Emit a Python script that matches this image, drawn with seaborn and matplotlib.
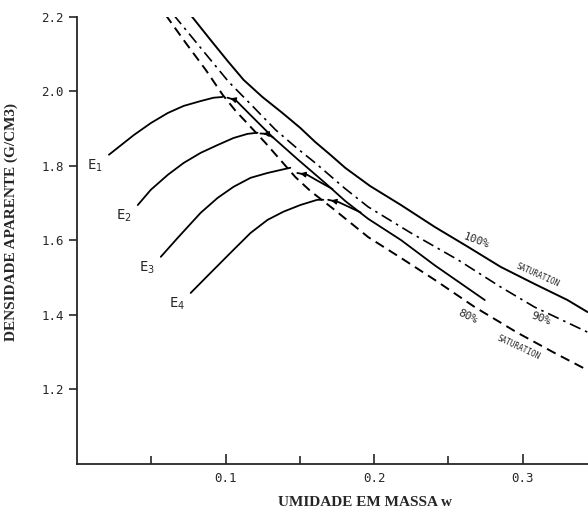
import matplotlib
matplotlib.use("Agg")
import matplotlib.pyplot as plt
import seaborn as sns

# saturation lines (w, dry density)
sat100_w = [0.0765, 0.0899, 0.1013, 0.1121, 0.1248, 0.1383, 0.1503, 0.1604, 0.1705,
            0.1805, 0.1973, 0.2181, 0.2409, 0.2631, 0.2852, 0.3081, 0.3302, 0.3436]
sat100_d = [2.205, 2.138, 2.082, 2.031, 1.985, 1.942, 1.902, 1.864, 1.830,
            1.795, 1.746, 1.695, 1.636, 1.583, 1.529, 1.483, 1.440, 1.408]
sat90_w = [0.0651, 0.0832, 0.1020, 0.1168, 0.1336, 0.1470, 0.1604, 0.1805, 0.1960,
           0.2248, 0.2564, 0.2852, 0.3081, 0.3436]
sat90_d = [2.205, 2.117, 2.026, 1.966, 1.897, 1.851, 1.808, 1.739, 1.690,
           1.620, 1.548, 1.475, 1.421, 1.354]
sat80_w = [0.0597, 0.0732, 0.0866, 0.0980, 0.1067, 0.1168, 0.1268, 0.1369, 0.1470,
           0.1570, 0.1718, 0.1960, 0.2181, 0.2409, 0.2678, 0.2966, 0.3215, 0.3436]
sat80_d = [2.205, 2.130, 2.058, 1.991, 1.948, 1.905, 1.862, 1.816, 1.770,
           1.733, 1.687, 1.609, 1.553, 1.494, 1.421, 1.352, 1.298, 1.252]

# compaction curves, dry side
e1_w = [0.0215, 0.0383, 0.0497, 0.0611, 0.0718, 0.0832, 0.0919, 0.0980]
e1_d = [1.830, 1.883, 1.915, 1.942, 1.961, 1.974, 1.983, 1.985]
e2_w = [0.0409, 0.0497, 0.0611, 0.0718, 0.0832, 0.0946, 0.1054, 0.1148, 0.1215]
e2_d = [1.695, 1.736, 1.776, 1.808, 1.835, 1.856, 1.875, 1.886, 1.889]
e3_w = [0.0564, 0.0678, 0.0832, 0.0946, 0.1054, 0.1168, 0.1282, 0.1369, 0.1436]
e3_d = [1.556, 1.607, 1.674, 1.714, 1.744, 1.768, 1.781, 1.789, 1.795]
e4_w = [0.0765, 0.0899, 0.1054, 0.1168, 0.1282, 0.1389, 0.1503, 0.1617, 0.1658]
e4_d = [1.459, 1.513, 1.575, 1.620, 1.655, 1.677, 1.695, 1.709, 1.709]

# wet side: common line from the E1 peak, plus short branches of E2..E4
wet_w = [0.1013, 0.1067, 0.1154, 0.1315, 0.1490, 0.1671, 0.1805, 0.1960, 0.2181,
         0.2409, 0.2745]
wet_d = [1.983, 1.977, 1.942, 1.878, 1.816, 1.754, 1.706, 1.658, 1.601,
         1.533, 1.440]
wet2_w = [0.1235, 0.1280, 0.1322]
wet2_d = [1.887, 1.886, 1.876]
wet3_w = [0.1483, 0.1550, 0.1620, 0.1720]
wet3_d = [1.781, 1.776, 1.760, 1.738]
wet4_w = [0.1691, 0.1760, 0.1830, 0.1910]
wet4_d = [1.709, 1.703, 1.690, 1.675]

curve_names = ["E$_1$", "E$_2$", "E$_3$", "E$_4$"]

sns.set_style("ticks")
plt.rcParams['font.family'] = ['DejaVu Sans Mono']

fig = plt.figure(figsize=(5.88, 5.11), dpi=100)
ax = fig.add_axes([0.131, 0.092, 0.869, 0.875])

k = dict(color="black", sort=False, legend=False, ax=ax)
sns.lineplot(x=sat100_w, y=sat100_d, linewidth=1.4, **k)
sns.lineplot(x=sat90_w, y=sat90_d, linewidth=1.2, linestyle=(0, (7, 3, 1.5, 3)), **k)
sns.lineplot(x=sat80_w, y=sat80_d, linewidth=1.4, linestyle=(0, (5, 3)), **k)

for ww, dd in [(e1_w, e1_d), (e2_w, e2_d), (e3_w, e3_d), (e4_w, e4_d)]:
    sns.lineplot(x=ww, y=dd, linewidth=1.3, **k)
for ww, dd in [(wet_w, wet_d), (wet2_w, wet2_d), (wet3_w, wet3_d), (wet4_w, wet4_d)]:
    sns.lineplot(x=ww, y=dd, linewidth=1.3, **k)
    ax.annotate("", xy=(ww[0], dd[0]), xytext=(ww[1], dd[1]),
                arrowprops=dict(arrowstyle="-|>", color="black", lw=1, mutation_scale=8))

# curve labels
starts = [(e1_w[0], e1_d[0]), (e2_w[0], e2_d[0]), (e3_w[0], e3_d[0]), (e4_w[0], e4_d[0])]
for name, (x0, y0) in zip(curve_names, starts):
    ax.text(x0 - 0.004, y0 - 0.008, name, ha="right", va="top", fontsize=10)

ax.text(0.269, 1.600, "100%", rotation=-20, fontsize=8, ha="center", va="center")
ax.text(0.310, 1.508, "SATURATION", rotation=-24, fontsize=5.5, ha="center", va="center")
ax.text(0.312, 1.390, "90%", rotation=-20, fontsize=8, ha="center", va="center")
ax.text(0.263, 1.397, "80%", rotation=-25, fontsize=8, ha="center", va="center")
ax.text(0.297, 1.312, "SATURATION", rotation=-25, fontsize=5.5, ha="center", va="center")

ax.set_xlim(0, 0.344)
ax.set_ylim(1.0, 2.2)
ax.set_xticks([0.1, 0.2, 0.3])
ax.set_xticklabels(["0.1", "0.2", "0.3"])
ax.set_xticks([0.05, 0.15, 0.25], minor=True)
ax.set_yticks([1.2, 1.4, 1.6, 1.8, 2.0, 2.2])
ax.set_yticklabels(["1.2", "1.4", "1.6", "1.8", "2.0", "2.2"])
ax.tick_params(axis="x", direction="in", length=7, width=1.2, labelsize=9, pad=6)
ax.tick_params(axis="x", which="minor", direction="in", length=6, width=1.2)
ax.tick_params(axis="y", direction="out", length=6, width=1.2, labelsize=9)
sns.despine(ax=ax)
for s in ["left", "bottom"]:
    ax.spines[s].set_linewidth(1.3)

ax.set_xlabel("UMIDADE EM MASSA w", family="Liberation Serif", fontweight="bold",
              fontsize=11)
ax.set_ylabel("DENSIDADE APARENTE (G/CM3)", family="Liberation Serif", fontweight="bold",
              fontsize=11)
ax.xaxis.set_label_coords(0.564, -0.072)
ax.yaxis.set_label_coords(-0.115, 0.541)

fig.savefig("out.png", dpi=100)
